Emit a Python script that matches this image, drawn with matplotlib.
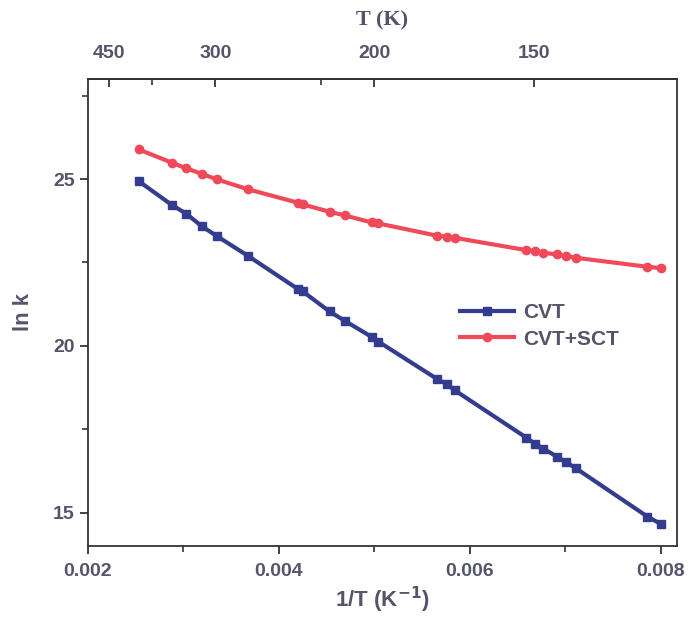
import matplotlib
matplotlib.use("Agg")
import matplotlib.pyplot as plt
from matplotlib.ticker import FixedLocator, FuncFormatter

# 1/T values (K^-1)
inv_T = [0.00253, 0.00288, 0.00303, 0.00319, 0.00335, 0.00368, 0.00420, 0.00425,
         0.00453, 0.00469, 0.00497, 0.00504, 0.00566, 0.00576, 0.00584, 0.00659,
         0.00668, 0.00677, 0.00691, 0.00701, 0.00711, 0.00786, 0.00800]
# ln k, CVT
lnk_cvt = [24.94, 24.22, 23.96, 23.59, 23.29, 22.69, 21.70, 21.63,
           21.03, 20.75, 20.27, 20.13, 19.00, 18.85, 18.67, 17.25,
           17.07, 16.92, 16.68, 16.51, 16.33, 14.88, 14.66]
# ln k, CVT+SCT
lnk_sct = [25.89, 25.49, 25.32, 25.16, 24.99, 24.69, 24.29, 24.24,
           24.02, 23.91, 23.70, 23.67, 23.30, 23.27, 23.24, 22.87,
           22.84, 22.79, 22.74, 22.69, 22.64, 22.37, 22.33]

series_labels = ["CVT", "CVT+SCT"]
x_ticks = [0.002, 0.004, 0.006, 0.008]
x_tick_labels = ["0.002", "0.004", "0.006", "0.008"]
y_ticks = [15, 20, 25]
top_T_ticks = [450, 300, 200, 150]
top_T_minor = [375, 225]

txt = "#54546a"
blue = "#333c8e"
red = "#f04a5a"

fig = plt.figure(figsize=(6.89, 6.36), dpi=100)
ax = fig.add_axes([0.1277, 0.1415, 0.855, 0.7343])

ax.plot(inv_T, lnk_cvt, color=blue, lw=3, marker="s", ms=5.5, label=series_labels[0])
ax.plot(inv_T, lnk_sct, color=red, lw=3, marker="o", ms=6, label=series_labels[1])

ax.set_xlim(0.002, 0.00817)
ax.set_ylim(14, 28)

ax.set_xticks(x_ticks)
ax.set_xticklabels(x_tick_labels)
ax.set_xticks([0.003, 0.005, 0.007], minor=True)
ax.set_yticks(y_ticks)
ax.set_yticks([17.5, 22.5, 27.5], minor=True)

for s in ax.spines.values():
    s.set_color("#333333")
    s.set_linewidth(1.3)

ax.tick_params(axis="both", which="major", direction="out", length=6, width=1.3,
               color="#333333", labelcolor=txt, labelsize=14)
ax.tick_params(axis="both", which="minor", direction="out", length=4, width=1.2,
               color="#333333")
ax.tick_params(axis="x", pad=6)
for lab in ax.get_xticklabels() + ax.get_yticklabels():
    lab.set_fontweight("bold")
    lab.set_fontfamily("Liberation Sans")

ax.set_xlabel("1/T (K$^{\\mathbf{-1}}$)", fontsize=16, fontweight="bold",
              color=txt, family="Liberation Sans", labelpad=4)
ax.set_ylabel("ln k", fontsize=16, fontweight="bold", color=txt,
              family="Liberation Sans", labelpad=14)

sec = ax.secondary_xaxis("top", functions=(lambda x: 1.0 / x, lambda t: 1.0 / t))
sec.xaxis.set_major_locator(FixedLocator(top_T_ticks))
sec.xaxis.set_minor_locator(FixedLocator(top_T_minor))
sec.xaxis.set_major_formatter(FuncFormatter(lambda v, p: f"{v:.0f}"))
sec.tick_params(which="major", direction="in", length=6, width=1.3, color="#333333",
                labelcolor=txt, labelsize=14, pad=12)
sec.tick_params(which="minor", direction="in", length=4, width=1.2, color="#333333")
for lab in sec.get_xticklabels():
    lab.set_fontweight("bold")
    lab.set_fontfamily("Liberation Sans")
sec.spines["top"].set_color("#333333")
sec.spines["top"].set_linewidth(1.3)
sec.set_xlabel("T (K)", fontsize=16, fontweight="bold", color=txt,
               family="Liberation Serif", labelpad=14)

leg = ax.legend(loc="upper left", bbox_to_anchor=(0.6, 0.56), frameon=False,
                handlelength=2.6, handletextpad=0.4, labelspacing=0.35,
                prop={"family": "Liberation Sans", "weight": "bold", "size": 15})
for t in leg.get_texts():
    t.set_color(txt)

fig.savefig("out.png", dpi=100)
